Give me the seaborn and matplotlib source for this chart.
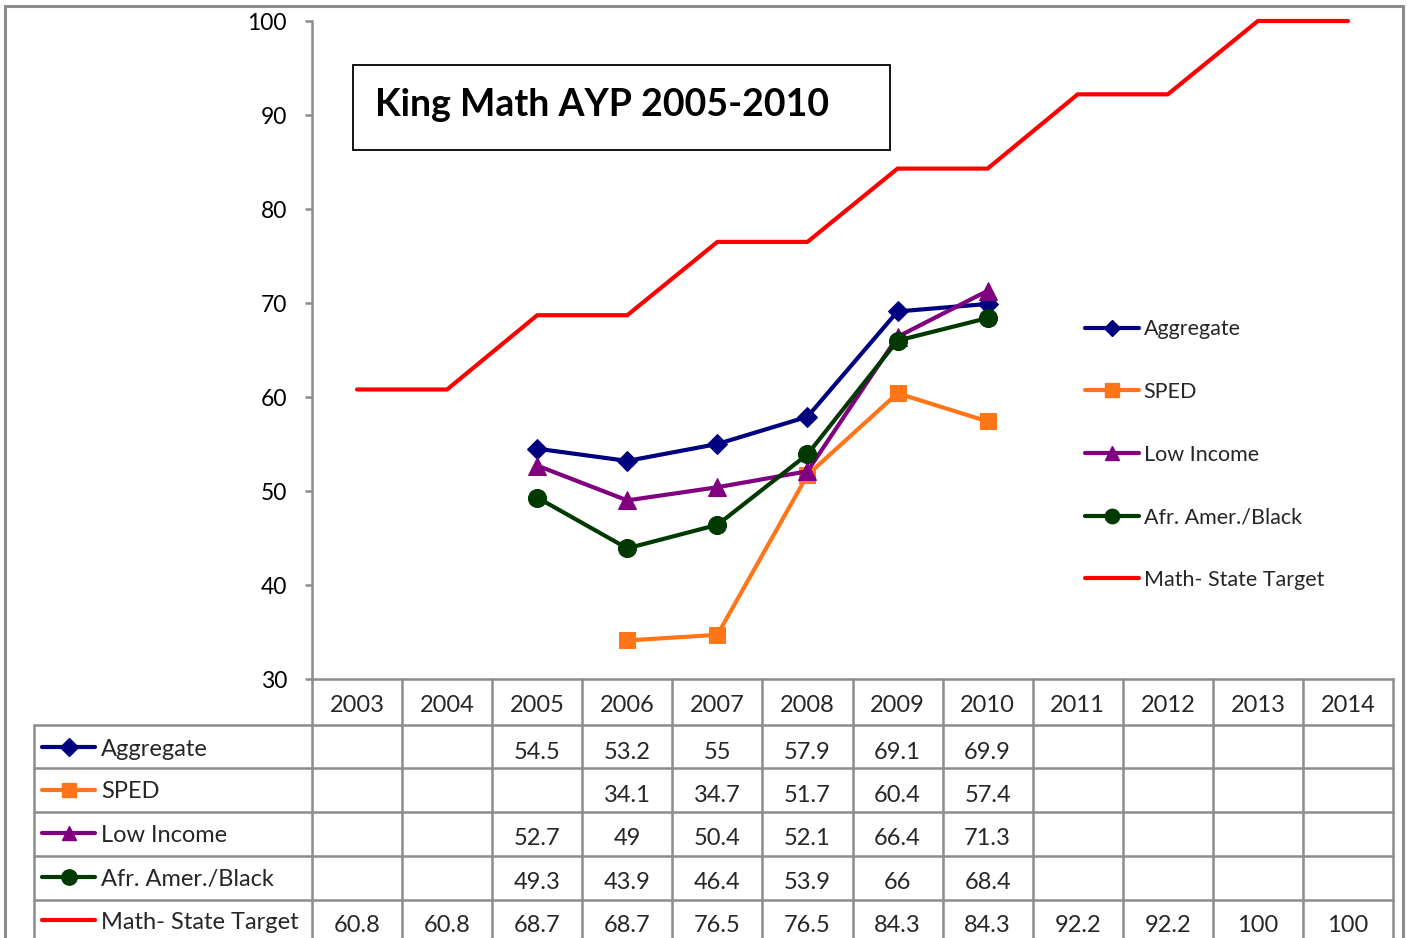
import numpy as np
import pandas as pd
import matplotlib
matplotlib.use("Agg")
import matplotlib.pyplot as plt
import seaborn as sns
from matplotlib.lines import Line2D
from matplotlib.patches import Rectangle
from matplotlib.transforms import blended_transform_factory

# ---------------- data ----------------
years = [2003, 2004, 2005, 2006, 2007, 2008, 2009, 2010, 2011, 2012, 2013, 2014]
aggregate = [None, None, 54.5, 53.2, 55, 57.9, 69.1, 69.9, None, None, None, None]
sped = [None, None, None, 34.1, 34.7, 51.7, 60.4, 57.4, None, None, None, None]
low_income = [None, None, 52.7, 49, 50.4, 52.1, 66.4, 71.3, None, None, None, None]
afr_amer = [None, None, 49.3, 43.9, 46.4, 53.9, 66, 68.4, None, None, None, None]
state_target = [60.8, 60.8, 68.7, 68.7, 76.5, 76.5, 84.3, 84.3, 92.2, 92.2, 100, 100]

series_names = ["Aggregate", "SPED", "Low Income", "Afr. Amer./Black", "Math- State Target"]
series_values = [aggregate, sped, low_income, afr_amer, state_target]
colors = ["#000080", "#FF7518", "#800080", "#003A00", "#FF0000"]
markers = ["D", "s", "^", "o", None]
msizes = [10.5, 12, 12.5, 13, 0]
title = "King Math AYP 2005-2010"
yticks = [30, 40, 50, 60, 70, 80, 90, 100]

# ---------------- figure ----------------
W, H = 1407, 938
sns.set_theme(style="white")
plt.rcParams["font.family"] = ["Lato", "DejaVu Sans"]

fig = plt.figure(figsize=(W / 100, H / 100), dpi=100)
fig.patch.set_facecolor("white")

def fx(px):
    return px / W

def fy(py):
    return 1 - py / H

ax_l, ax_r, ax_t, ax_b = 312, 1393, 21, 679
ax = fig.add_axes([fx(ax_l), fy(ax_b), fx(ax_r - ax_l), (ax_b - ax_t) / H])
ax.set_facecolor("white")

rows = []
for name, vals in zip(series_names, series_values):
    for yr, v in zip(years, vals):
        rows.append({"series": name, "year": yr, "value": np.nan if v is None else v})
df = pd.DataFrame(rows)

handles = []
for name, col, mk, ms in zip(series_names, colors, markers, msizes):
    sub = df[(df.series == name)].dropna()
    kw = dict(color=col, linewidth=3.0, ax=ax, clip_on=False, zorder=3)
    if mk:
        kw.update(marker=mk, markersize=ms, markeredgecolor=col, markerfacecolor=col)
    sns.lineplot(data=sub, x="year", y="value", **kw)
    handles.append(Line2D([], [], color=col, linewidth=3.0,
                          marker=mk if mk else None, markersize=ms * 0.8,
                          markeredgecolor=col, markerfacecolor=col))

ax.set_xlim(years[0] - 0.5, years[-1] + 0.5)
ax.set_ylim(30, 100)
ax.set_yticks(yticks)
ax.set_yticklabels([str(t) for t in yticks], fontsize=16.5, va="center_baseline")
ax.set_xticks([])
ax.set_xlabel("")
ax.set_ylabel("")
for s in ["top", "right"]:
    ax.spines[s].set_visible(False)
ax.spines["left"].set_color("#8C8C8C")
ax.spines["left"].set_linewidth(1.8)
ax.spines["bottom"].set_color("#8C8C8C")
ax.spines["bottom"].set_linewidth(1.8)
ax.tick_params(axis="y", left=True, length=5, width=1.8, color="#8C8C8C", pad=13,
               labelcolor="black")
if ax.get_legend():
    ax.get_legend().remove()

leg = ax.legend(handles, series_names, loc="upper left",
                bbox_to_anchor=(fx(1066), fy(300)), bbox_transform=fig.transFigure,
                frameon=False, fontsize=15.5, handlelength=2.5, handletextpad=0.2,
                labelspacing=1.98)

# title box
tb = fig.text(fx(375), fy(105), title, fontsize=27, fontweight="bold",
              ha="left", va="center", color="black")
fig.add_artist(Rectangle((fx(353), fy(150)), fx(890 - 353), (150 - 65) / H,
                         transform=fig.transFigure, fill=False, edgecolor="black",
                         linewidth=1.3))

# outer chart border
gray = "#8C8C8C"
for xs, ys in [([5, 5], [6, H + 5]), ([5, 1403], [6, 6]), ([1403, 1403], [6, H + 5])]:
    fig.add_artist(Line2D([fx(x) for x in xs], [fy(y) for y in ys],
                          transform=fig.transFigure, color=gray, linewidth=2.2))

# ---------------- data table ----------------
tr = blended_transform_factory(ax.transData, fig.transFigure)
row_tops = [725, 768, 812, 856, 900]
row_bottom_end = H + 5
for y in row_tops:
    fig.add_artist(Line2D([fx(34), fx(ax_r)], [fy(y), fy(y)], transform=fig.transFigure,
                          color=gray, linewidth=1.8))
fig.add_artist(Line2D([fx(34), fx(34)], [fy(725), fy(row_bottom_end)],
                      transform=fig.transFigure, color=gray, linewidth=1.8))
bounds = [y - 0.5 for y in years] + [years[-1] + 0.5]
for b in bounds:
    fig.add_artist(Line2D([b, b], [fy(ax_b), fy(row_bottom_end)], transform=tr,
                          color=gray, linewidth=1.8))

for yr in years:
    fig.text(yr, fy(706), str(yr), transform=tr, ha="center", va="center", fontsize=17)

row_centers = [749, 792, 835, 879, 922]
for name, vals, col, mk, ms, yc in zip(series_names, series_values, colors, markers,
                                        msizes, row_centers):
    fig.add_artist(Line2D([fx(42), fx(95)], [fy(yc - 2), fy(yc - 2)],
                          transform=fig.transFigure, color=col, linewidth=3.0))
    if mk:
        fig.add_artist(Line2D([fx(68.5)], [fy(yc - 2)], transform=fig.transFigure,
                              color=col, marker=mk, markersize=ms * 0.85,
                              markeredgecolor=col, markerfacecolor=col, linestyle=""))
    fig.text(fx(101), fy(yc), name, ha="left", va="center", fontsize=17)
    for yr, v in zip(years, vals):
        if v is not None:
            fig.text(yr, fy(yc + 3), f"{v:g}", transform=tr, ha="center", va="center",
                     fontsize=17)

fig.savefig("out.png", dpi=100, facecolor="white")
